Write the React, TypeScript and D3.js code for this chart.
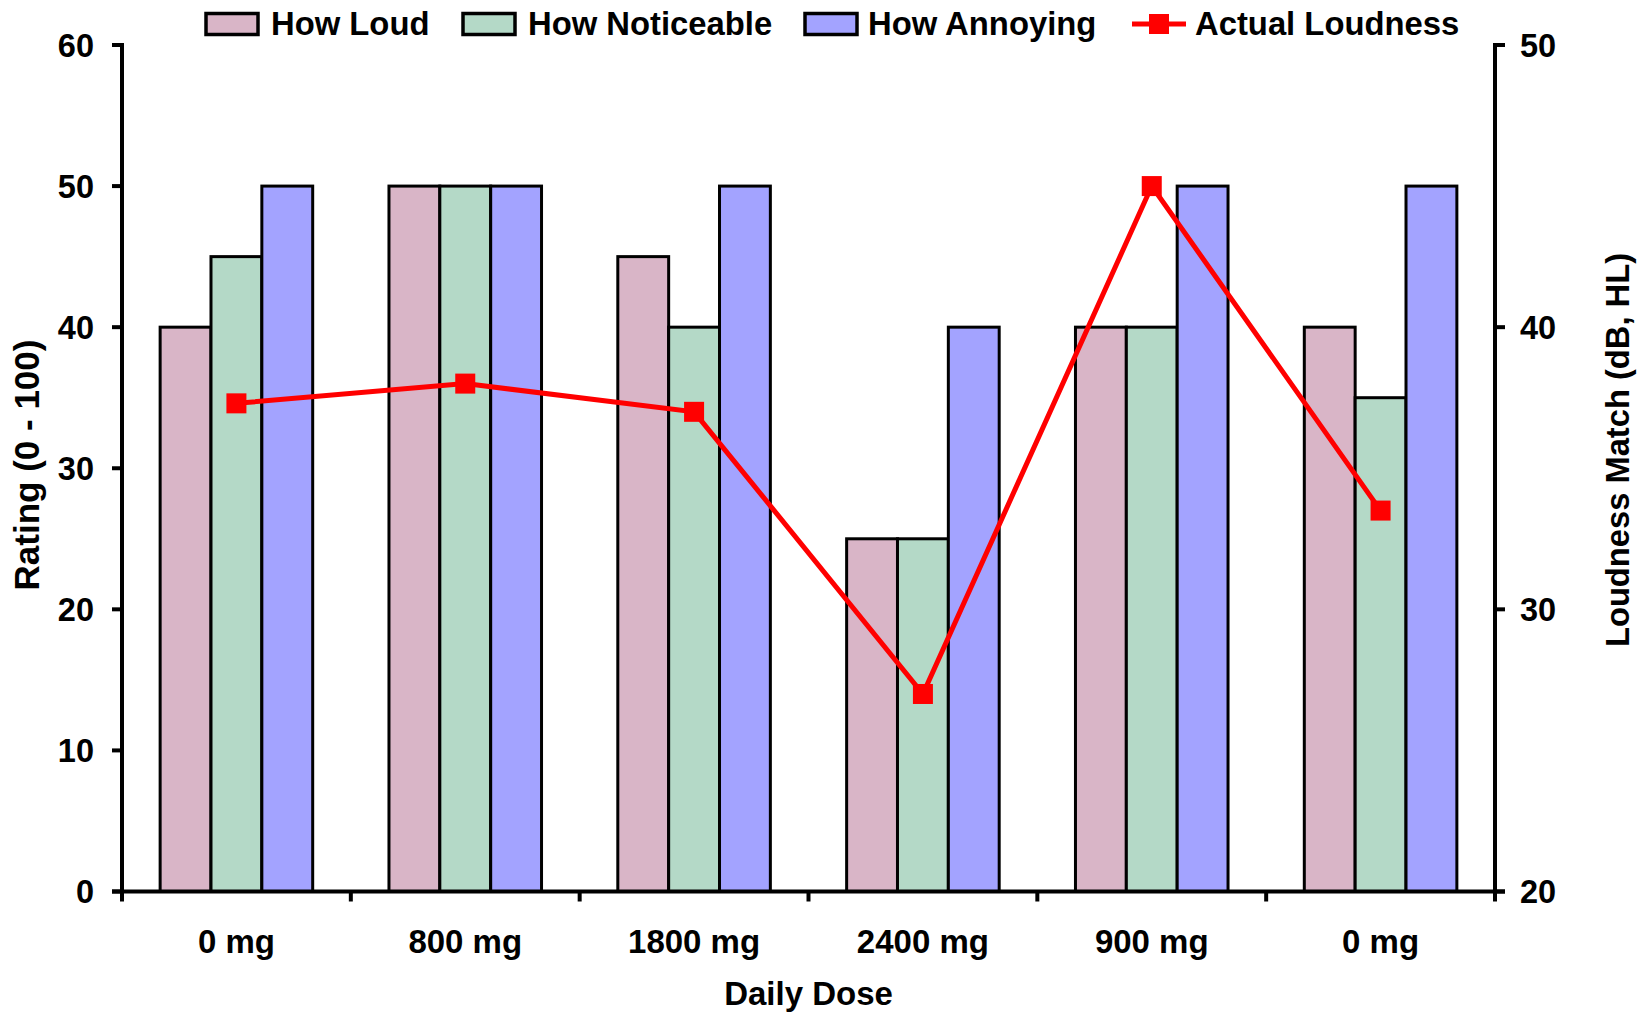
import React from "react";
import * as d3 from "d3";

const categories = ["0 mg", "800 mg", "1800 mg", "2400 mg", "900 mg", "0 mg"];
const seriesNames = ["How Loud", "How Noticeable", "How Annoying"];
const howLoud = [40, 50, 45, 25, 40, 40];
const howNoticeable = [45, 50, 40, 25, 40, 35];
const howAnnoying = [50, 50, 50, 40, 50, 50];
const actualLoudness = [37.3, 38.0, 37.0, 27.0, 45.0, 33.5];
const leftTicks = [0, 10, 20, 30, 40, 50, 60];
const rightTicks = [20, 30, 40, 50];
const seriesColors = ["#D9B5C7", "#B4D9C7", "#A3A3FF"];
const lineColor = "#FF0000";

const W = 1639;
const H = 1015;
const X0 = 122;
const X1 = 1495;
const Y0 = 891.5;
const Y1 = 45;
const FONT = "'Liberation Sans', Arial, Helvetica, sans-serif";

export default function App() {
  const idx = categories.map((_, i) => i);
  const x = d3.scaleBand<number>().domain(idx).range([X0, X1]).padding(0);
  const inner = d3
    .scaleBand<string>()
    .domain(seriesNames)
    .range([0, x.bandwidth()])
    .paddingInner(0)
    .paddingOuter(0.75);
  const yL = d3.scaleLinear().domain([0, 60]).range([Y0, Y1]);
  const yR = d3.scaleLinear().domain([20, 50]).range([Y0, Y1]);
  const seriesValues = [howLoud, howNoticeable, howAnnoying];

  const line = d3
    .line<number>()
    .x((_, i) => (x(i) as number) + x.bandwidth() / 2)
    .y((d) => yR(d));

  const boundaries = d3.range(categories.length + 1).map((i) => X0 + i * x.step());

  const legendItems = [
    { type: "bar", name: seriesNames[0], color: seriesColors[0], sx: 206, tx: 271 },
    { type: "bar", name: seriesNames[1], color: seriesColors[1], sx: 463, tx: 528 },
    { type: "bar", name: seriesNames[2], color: seriesColors[2], sx: 805, tx: 868 },
    { type: "line", name: "Actual Loudness", color: lineColor, sx: 1132, tx: 1195 },
  ];

  return (
    <svg
      width={W}
      height={H}
      style={{ position: "absolute", left: 0, top: 0, background: "#fff" }}
      fontFamily={FONT}
      fontWeight="bold"
    >
      <rect x={0} y={0} width={W} height={H} fill="#fff" />
      {/* bars */}
      {seriesValues.map((vals, s) =>
        vals.map((v, i) => (
          <rect
            key={`b${s}-${i}`}
            x={(x(i) as number) + (inner(seriesNames[s]) as number)}
            y={yL(v)}
            width={inner.bandwidth()}
            height={Y0 - yL(v)}
            fill={seriesColors[s]}
            stroke="#000"
            strokeWidth={3}
          />
        ))
      )}
      {/* line */}
      <path d={line(actualLoudness) || ""} fill="none" stroke={lineColor} strokeWidth={5} />
      {actualLoudness.map((v, i) => (
        <rect
          key={`m${i}`}
          x={(x(i) as number) + x.bandwidth() / 2 - 10}
          y={yR(v) - 10}
          width={20}
          height={20}
          fill={lineColor}
        />
      ))}
      {/* axes */}
      <line x1={X0} x2={X0} y1={Y1 - 2} y2={Y0 + 2} stroke="#000" strokeWidth={4} />
      <line x1={X1} x2={X1} y1={Y1 - 2} y2={Y0 + 2} stroke="#000" strokeWidth={4} />
      <line x1={X0 - 10} x2={X1 + 10} y1={Y0} y2={Y0} stroke="#000" strokeWidth={4} />
      {leftTicks.map((t) => (
        <g key={`lt${t}`}>
          <line x1={X0 - 10} x2={X0} y1={yL(t)} y2={yL(t)} stroke="#000" strokeWidth={4} />
          <text x={94} y={yL(t) + 11.5} textAnchor="end" fontSize={32.5}>
            {t}
          </text>
        </g>
      ))}
      {rightTicks.map((t) => (
        <g key={`rt${t}`}>
          <line x1={X1} x2={X1 + 10} y1={yR(t)} y2={yR(t)} stroke="#000" strokeWidth={4} />
          <text x={1520} y={yR(t) + 11.5} textAnchor="start" fontSize={32.5}>
            {t}
          </text>
        </g>
      ))}
      {boundaries.map((bx, i) => (
        <line key={`xt${i}`} x1={bx} x2={bx} y1={Y0} y2={Y0 + 10} stroke="#000" strokeWidth={4} />
      ))}
      {categories.map((c, i) => (
        <text
          key={`xl${i}`}
          x={(x(i) as number) + x.bandwidth() / 2}
          y={952.5}
          textAnchor="middle"
          fontSize={33}
        >
          {c}
        </text>
      ))}
      {/* axis titles */}
      <text x={(X0 + X1) / 2} y={1005} textAnchor="middle" fontSize={33}>
        Daily Dose
      </text>
      <text transform={`translate(39,465) rotate(-90)`} textAnchor="middle" fontSize={35}>
        Rating (0 - 100)
      </text>
      <text transform={`translate(1629,450) rotate(-90)`} textAnchor="middle" fontSize={32.7}>
        Loudness Match (dB, HL)
      </text>
      {/* legend */}
      {legendItems.map((it) => (
        <g key={it.name}>
          {it.type === "bar" ? (
            <rect x={it.sx} y={13.5} width={52} height={21} fill={it.color} stroke="#000" strokeWidth={3.5} />
          ) : (
            <g>
              <line x1={it.sx} x2={it.sx + 54} y1={24} y2={24} stroke={it.color} strokeWidth={5} />
              <rect x={it.sx + 17} y={14} width={20} height={20} fill={it.color} />
            </g>
          )}
          <text x={it.tx} y={35} fontSize={32.8}>
            {it.name}
          </text>
        </g>
      ))}
    </svg>
  );
}
